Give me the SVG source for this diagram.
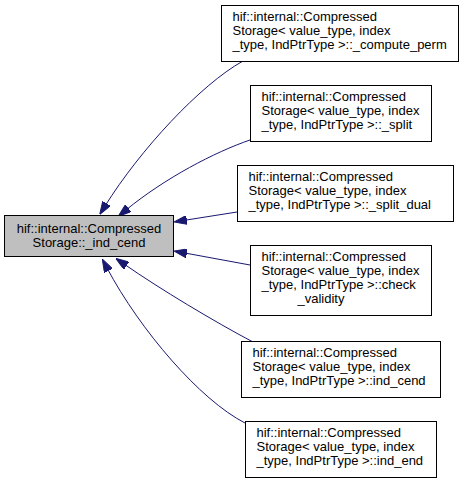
<svg xmlns="http://www.w3.org/2000/svg" width="465" height="483" viewBox="0 0 465 483">
<defs>
<style>
.box{fill:#ffffff;stroke:#000000;stroke-width:1}
.main{fill:#bfbfbf;stroke:#000000;stroke-width:1}
text{font-family:"Liberation Sans",Arial,Helvetica,sans-serif;font-size:13px;fill:#000000}
.mid{text-anchor:middle}
.edge{fill:none;stroke:#191970;stroke-width:1}
</style>
<marker id="arr" markerUnits="userSpaceOnUse" viewBox="0 0 13 9" markerWidth="13" markerHeight="9" refX="3" refY="4.5" orient="auto">
<path d="M0,0 L13,4.5 L0,9 Z" fill="#191970" stroke="#191970" stroke-width="1"/>
</marker>
</defs>
<rect width="465" height="483" fill="#ffffff"/>
<g id="edges">
<path class="edge" marker-end="url(#arr)" d="M243,61 C200,85 140,150 105,206"/>
<path class="edge" marker-end="url(#arr)" d="M250,140 C215,152 165,178 126,210"/>
<path class="edge" marker-end="url(#arr)" d="M237,212 L183.9,220.4"/>
<path class="edge" marker-end="url(#arr)" d="M250,265 L183.8,252.8"/>
<path class="edge" marker-end="url(#arr)" d="M253,342 C215,322 160,289 124,264"/>
<path class="edge" marker-end="url(#arr)" d="M245,423 C200,400 140,330 107,268"/>
</g>
<g id="node_main">
<rect class="main" x="4.5" y="215.5" width="169" height="41"/>
<text class="mid" x="89" y="232.5">hif::internal::Compressed</text>
<text class="mid" x="89" y="246.5">Storage::_ind_cend</text>
</g>
<g id="node_compute_perm">
<rect class="box" x="221.5" y="5.5" width="237" height="56"/>
<text x="232.5" y="20.5">hif::internal::Compressed</text>
<text x="232.5" y="34.5">Storage&lt; value_type, index</text>
<text x="232.5" y="48.5">_type, IndPtrType &gt;::_compute_perm</text>
</g>
<g id="node_split">
<rect class="box" x="250.5" y="85.5" width="181" height="56"/>
<text x="261.5" y="100.5">hif::internal::Compressed</text>
<text x="261.5" y="114.5">Storage&lt; value_type, index</text>
<text x="261.5" y="128.5">_type, IndPtrType &gt;::_split</text>
</g>
<g id="node_split_dual">
<rect class="box" x="237.5" y="165.5" width="216" height="56"/>
<text x="248.5" y="180.5">hif::internal::Compressed</text>
<text x="248.5" y="194.5">Storage&lt; value_type, index</text>
<text x="248.5" y="208.5">_type, IndPtrType &gt;::_split_dual</text>
</g>
<g id="node_check_validity">
<rect class="box" x="250.5" y="245.5" width="181" height="70"/>
<text x="261.5" y="260.5">hif::internal::Compressed</text>
<text x="261.5" y="274.5">Storage&lt; value_type, index</text>
<text x="261.5" y="288.5">_type, IndPtrType &gt;::check</text>
<text class="mid" x="321" y="302.5">_validity</text>
</g>
<g id="node_ind_cend">
<rect class="box" x="241.5" y="341.5" width="199" height="56"/>
<text x="252.5" y="356.5">hif::internal::Compressed</text>
<text x="252.5" y="370.5">Storage&lt; value_type, index</text>
<text x="252.5" y="384.5">_type, IndPtrType &gt;::ind_cend</text>
</g>
<g id="node_ind_end">
<rect class="box" x="245.5" y="421.5" width="191" height="56"/>
<text x="256.5" y="436.5">hif::internal::Compressed</text>
<text x="256.5" y="450.5">Storage&lt; value_type, index</text>
<text x="256.5" y="464.5">_type, IndPtrType &gt;::ind_end</text>
</g>
</svg>
